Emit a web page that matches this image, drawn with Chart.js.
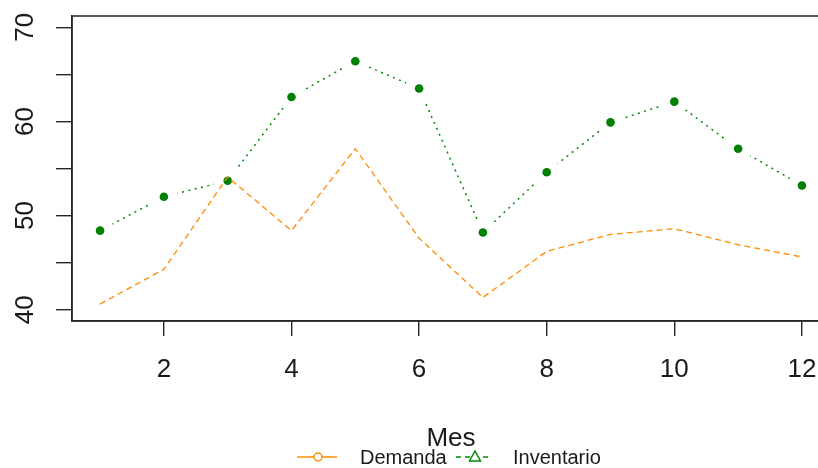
<!DOCTYPE html>
<html lang="es">
<head>
<meta charset="utf-8">
<title>Demanda e Inventario por Mes</title>
<script src="https://cdn.jsdelivr.net/npm/chart.js@4/dist/chart.umd.min.js"></script>
<style>
  html, body { margin: 0; padding: 0; background: #ffffff; overflow: hidden; }
  #wrap { position: relative; width: 840px; height: 468px; }
  canvas { display: block; }
</style>
</head>
<body>
<div id="wrap"><canvas id="grafico" width="840" height="468"></canvas></div>
<script>
// Meses y series
const meses = [1, 2, 3, 4, 5, 6, 7, 8, 9, 10, 11, 12];
const demanda = [40.6, 44.3, 54.1, 48.4, 57.1, 47.6, 41.3, 46.2, 48.0, 48.6, 46.9, 45.6];
const inventario = [48.4, 52.0, 53.7, 62.6, 66.4, 63.5, 48.2, 54.6, 59.9, 62.1, 57.1, 53.2];

// Marcas de los ejes
const xTicks = [2, 4, 6, 8, 10, 12];
const yTicks = [40, 45, 50, 55, 60, 65, 70];
const yTickLabels = ['40', '', '50', '', '60', '', '70'];

const TEXT = '#1a1a1a';
const AXIS = '#262626';
const FONT = '"Liberation Sans", Arial, Helvetica, sans-serif';

// Caja alrededor del área de trazado
const cajaPlugin = {
  id: 'caja',
  afterDraw(chart) {
    const { ctx, chartArea: a } = chart;
    ctx.save();
    ctx.strokeStyle = AXIS;
    ctx.lineWidth = 1.5;
    ctx.strokeRect(a.left, a.top, a.right - a.left, a.bottom - a.top);
    ctx.restore();
  }
};

// Línea con huecos alrededor de cada punto (estilo "b"):
// se borra un disco blanco y se vuelve a pintar el punto encima
const huecosPlugin = {
  id: 'huecos',
  afterDatasetDraw(chart, args) {
    const ds = chart.data.datasets[args.index];
    if (!ds.gapRadius) return;
    const { ctx } = chart;
    ctx.save();
    args.meta.data.forEach(p => {
      ctx.fillStyle = '#ffffff';
      ctx.beginPath();
      ctx.arc(p.x, p.y, ds.gapRadius, 0, Math.PI * 2);
      ctx.fill();
      ctx.fillStyle = ds.pointBackgroundColor;
      ctx.beginPath();
      ctx.arc(p.x, p.y, ds.pointRadius, 0, Math.PI * 2);
      ctx.fill();
    });
    ctx.restore();
  }
};

// Leyenda horizontal bajo el título del eje x
const leyendaPlugin = {
  id: 'leyendaInferior',
  afterDraw(chart) {
    const { ctx, chartArea: a } = chart;
    const cx = (a.left + a.right) / 2;
    const y = 457;
    const items = [
      { ds: chart.data.datasets[0], x0: cx - 154, x1: cx - 114, mx: cx - 133, tx: cx - 91, dash: [], shape: 'circle' },
      { ds: chart.data.datasets[1], x0: cx + 5, x1: cx + 40, mx: cx + 24, tx: cx + 62, dash: [5, 4], shape: 'triangle' }
    ];
    ctx.save();
    items.forEach(it => {
      const col = it.ds.borderColor;
      ctx.strokeStyle = col;
      ctx.lineWidth = 1.5;
      ctx.setLineDash(it.dash);
      ctx.beginPath();
      ctx.moveTo(it.x0, y);
      ctx.lineTo(it.x1, y);
      ctx.stroke();
      ctx.setLineDash([]);
      ctx.fillStyle = '#ffffff';
      ctx.beginPath();
      if (it.shape === 'circle') {
        ctx.arc(it.mx, y, 4, 0, Math.PI * 2);
      } else {
        ctx.moveTo(it.mx, y - 6);
        ctx.lineTo(it.mx + 5.5, y + 4);
        ctx.lineTo(it.mx - 5.5, y + 4);
        ctx.closePath();
      }
      ctx.fill();
      ctx.stroke();
      ctx.fillStyle = TEXT;
      ctx.font = '20px ' + FONT;
      ctx.textAlign = 'left';
      ctx.textBaseline = 'middle';
      ctx.fillText(it.ds.label, it.tx, y + 1);
    });
    ctx.restore();
  }
};

new Chart(document.getElementById('grafico'), {
  type: 'line',
  data: {
    datasets: [
      {
        label: 'Demanda',
        data: meses.map((m, i) => ({ x: m, y: demanda[i] })),
        borderColor: '#FF8C00',
        borderWidth: 1.3,
        borderDash: [6, 4],
        pointRadius: 0,
        fill: false,
        tension: 0,
        order: 0
      },
      {
        label: 'Inventario',
        data: meses.map((m, i) => ({ x: m, y: inventario[i] })),
        borderColor: '#008B00',
        borderWidth: 1.5,
        borderDash: [2, 4.5],
        pointRadius: 4.3,
        pointBackgroundColor: '#008000',
        pointBorderWidth: 0,
        gapRadius: 14,
        fill: false,
        tension: 0,
        order: 1
      }
    ]
  },
  options: {
    responsive: false,
    animation: false,
    devicePixelRatio: 1,
    layout: { padding: { top: 16, right: 10, left: 0, bottom: 0 } },
    plugins: { legend: { display: false }, tooltip: { enabled: false } },
    scales: {
      x: {
        type: 'linear',
        min: 0.56,
        max: 12.44,
        afterBuildTicks(scale) { scale.ticks = xTicks.map(v => ({ value: v })); },
        afterFit(scale) { scale.height = 147; scale.paddingLeft = 0; scale.paddingRight = 0; },
        grid: { drawOnChartArea: false, drawTicks: true, tickLength: 15, color: AXIS, lineWidth: 1.4 },
        border: { display: true, color: AXIS, width: 1.5 },
        ticks: { color: TEXT, font: { family: FONT, size: 26 }, padding: 18, maxRotation: 0, autoSkip: false },
        title: { display: true, text: 'Mes', color: TEXT, font: { family: FONT, size: 26 }, padding: { top: 0, bottom: 14 } }
      },
      y: {
        type: 'linear',
        min: 38.8,
        max: 71.2,
        afterBuildTicks(scale) { scale.ticks = yTicks.map(v => ({ value: v })); },
        afterFit(scale) { scale.width = 72; scale.paddingTop = 0; scale.paddingBottom = 0; },
        grid: { drawOnChartArea: false, drawTicks: true, tickLength: 16, color: AXIS, lineWidth: 1.4 },
        border: { display: true, color: AXIS, width: 1.5 },
        ticks: {
          color: TEXT,
          font: { family: FONT, size: 26 },
          padding: 16,
          minRotation: 90,
          maxRotation: 90,
          crossAlign: 'center',
          autoSkip: false,
          callback: (v) => { const i = yTicks.indexOf(v); return i >= 0 ? yTickLabels[i] : ''; }
        }
      }
    }
  },
  plugins: [huecosPlugin, cajaPlugin, leyendaPlugin]
});
</script>
</body>
</html>
